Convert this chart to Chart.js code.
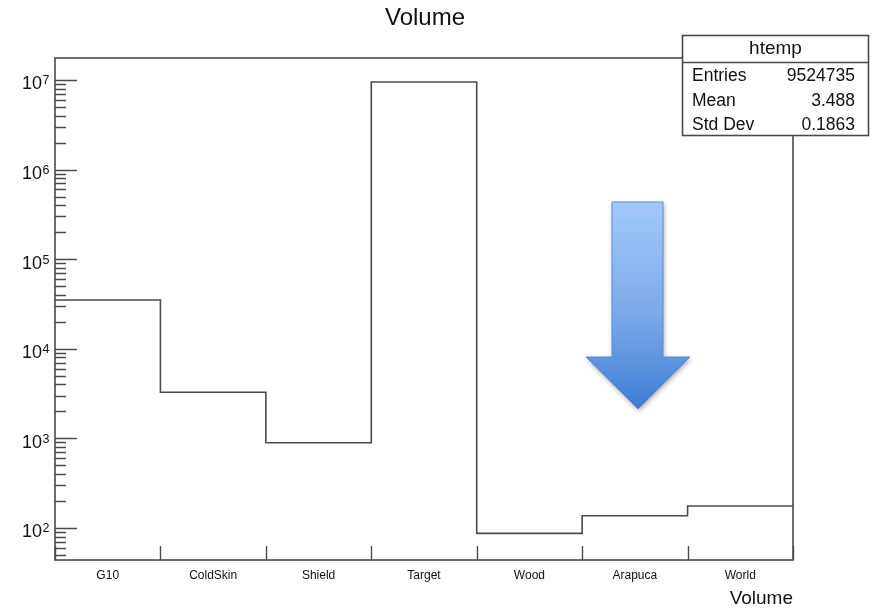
<!DOCTYPE html>
<html>
<head>
<meta charset="utf-8">
<script src="https://cdn.jsdelivr.net/npm/chart.js@4/dist/chart.umd.min.js"></script>
<style>
  html, body { margin: 0; padding: 0; background: #fff; }
  #wrap { width: 874px; height: 612px; }
</style>
</head>
<body>
<div id="wrap"><canvas id="c" width="874" height="612"></canvas></div>
<script>
// Histogram of volume names (log scale), one bin per volume
const categories = ['G10', 'ColdSkin', 'Shield', 'Target', 'Wood', 'Arapuca', 'World'];
const counts = [35000, 3270, 895, 9485170, 87, 137, 176];
const yDecades = [2, 3, 4, 5, 6, 7];
const statsTitle = 'htemp';
const statsLabels = ['Entries', 'Mean', 'Std Dev'];
const statsValues = ['9524735', '3.488', '0.1863'];
const histTitle = 'Volume';
const xAxisTitle = 'Volume';

const FONT = '"Liberation Sans", Arial, Helvetica, sans-serif';
const LINE = '#4a4a4a';

// step outline: left edge of every bin, plus the right edge of the last one
const stepPoints = counts.map((v, i) => ({ x: i, y: v }));
stepPoints.push({ x: categories.length, y: counts[counts.length - 1] });

const rootStyle = {
  id: 'rootStyle',
  afterDatasetsDraw(chart) {
    const ctx = chart.ctx;
    const a = chart.chartArea;
    const xs = chart.scales.x;
    const ys = chart.scales.y;
    ctx.save();

    // frame
    ctx.strokeStyle = LINE;
    ctx.lineWidth = 1.6;
    ctx.strokeRect(a.left, a.top, a.right - a.left, a.bottom - a.top);

    // y ticks (major at decades, minor in between), pointing inward
    ctx.lineWidth = 1.4;
    ctx.beginPath();
    for (let k = 1; k <= 7; k++) {
      for (let m = 1; m <= 9; m++) {
        const v = m * Math.pow(10, k);
        if (v < ys.min || v > ys.max) continue;
        const py = Math.round(ys.getPixelForValue(v)) + 0.5;
        const len = m === 1 ? 22 : 11;
        ctx.moveTo(a.left, py);
        ctx.lineTo(a.left + len, py);
      }
    }
    ctx.stroke();

    // x ticks at bin edges
    ctx.beginPath();
    for (let i = 0; i <= categories.length; i++) {
      const px = Math.round(xs.getPixelForValue(i)) + 0.5;
      ctx.moveTo(px, a.bottom);
      ctx.lineTo(px, a.bottom - 14);
    }
    ctx.stroke();

    // y labels 10^k
    ctx.fillStyle = '#111';
    ctx.textBaseline = 'alphabetic';
    yDecades.forEach(k => {
      const py = ys.getPixelForValue(Math.pow(10, k));
      ctx.font = '18px ' + FONT;
      ctx.textAlign = 'left';
      ctx.fillText('10', 22, py + 9.5);
      const w = ctx.measureText('10').width;
      ctx.font = '12.5px ' + FONT;
      ctx.fillText(String(k), 22 + w + 0.5, py + 4.5);
    });

    // category labels at bin centres
    ctx.font = '12px ' + FONT;
    ctx.textAlign = 'center';
    categories.forEach((c, i) => {
      ctx.fillText(c, xs.getPixelForValue(i + 0.5), 579);
    });

    // axis title
    ctx.font = '19px ' + FONT;
    ctx.textAlign = 'right';
    ctx.fillText(xAxisTitle, a.right, 604);

    // histogram title
    ctx.font = '24px ' + FONT;
    ctx.textAlign = 'center';
    ctx.fillText(histTitle, 425, 25);

    // stats box
    const bx = 682.5, by = 35.5, bw = 186, bh = 100;
    ctx.fillStyle = '#fff';
    ctx.fillRect(bx, by, bw, bh);
    ctx.strokeStyle = LINE;
    ctx.lineWidth = 1.6;
    ctx.strokeRect(bx, by, bw, bh);
    ctx.beginPath();
    ctx.moveTo(bx, 62.5);
    ctx.lineTo(bx + bw, 62.5);
    ctx.stroke();
    ctx.fillStyle = '#111';
    ctx.font = '19px ' + FONT;
    ctx.textAlign = 'center';
    ctx.fillText(statsTitle, bx + bw / 2, 54);
    ctx.font = '17.5px ' + FONT;
    statsLabels.forEach((lab, i) => {
      const yy = 81 + i * 24.5;
      ctx.textAlign = 'left';
      ctx.fillText(lab, 692, yy);
      ctx.textAlign = 'right';
      ctx.fillText(statsValues[i], 855, yy);
    });

    // downward arrow annotation
    const g = ctx.createLinearGradient(0, 202, 0, 410);
    g.addColorStop(0, '#a3c8fa');
    g.addColorStop(0.55, '#7aa9ea');
    g.addColorStop(1, '#3d7bd0');
    ctx.beginPath();
    ctx.moveTo(612, 202);
    ctx.lineTo(663, 202);
    ctx.lineTo(663, 357);
    ctx.lineTo(690, 357);
    ctx.lineTo(638, 409);
    ctx.lineTo(586, 357);
    ctx.lineTo(612, 357);
    ctx.closePath();
    ctx.shadowColor = 'rgba(0,0,0,0.35)';
    ctx.shadowBlur = 5;
    ctx.shadowOffsetX = 1;
    ctx.shadowOffsetY = 2;
    ctx.fillStyle = g;
    ctx.fill();
    ctx.shadowColor = 'transparent';
    ctx.strokeStyle = '#5a8ed4';
    ctx.lineWidth = 1;
    ctx.stroke();

    ctx.restore();
  }
};

new Chart(document.getElementById('c'), {
  type: 'line',
  data: {
    datasets: [{
      data: stepPoints,
      stepped: 'before',
      borderColor: LINE,
      borderWidth: 1.6,
      pointRadius: 0,
      fill: false,
      clip: false
    }]
  },
  options: {
    responsive: false,
    animation: false,
    events: [],
    layout: { padding: { left: 55, right: 81, top: 58, bottom: 52 } },
    plugins: { legend: { display: false }, tooltip: { enabled: false }, title: { display: false } },
    scales: {
      x: { type: 'linear', min: 0, max: categories.length, display: false },
      y: { type: 'logarithmic', min: 43.9, max: 1.76e7, display: false }
    }
  },
  plugins: [rootStyle]
});
</script>
</body>
</html>
